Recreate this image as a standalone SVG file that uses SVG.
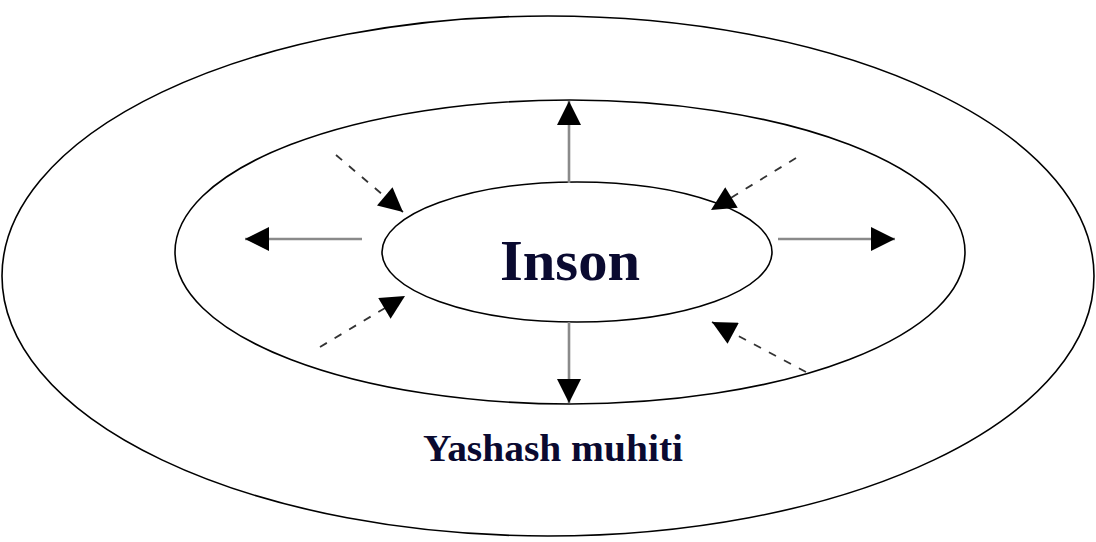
<svg xmlns="http://www.w3.org/2000/svg" width="1096" height="542" viewBox="0 0 1096 542">
  <style>
    .ring { fill: none; stroke: #000; stroke-width: 1.6; }
    .solid { stroke: #8a8a8a; stroke-width: 2.6; fill: none; }
    .dash { stroke: #333; stroke-width: 1.8; stroke-dasharray: 8 9; fill: none; }
    .label { font-family: "Liberation Serif", "Times New Roman", serif; font-weight: bold; fill: #0a0a30; text-anchor: middle; }
  </style>
  <defs>
    <marker id="head" viewBox="0 0 10 10" refX="10" refY="5" markerWidth="10" markerHeight="10" markerUnits="userSpaceOnUse" orient="auto">
      <path d="M0,0 L10,5 L0,10 Z" fill="#000"/>
    </marker>
    <marker id="bighead" viewBox="0 0 10 10" refX="10" refY="5" markerWidth="25" markerHeight="24" markerUnits="userSpaceOnUse" orient="auto">
      <path d="M0,0 L10,5 L0,10 Z" fill="#000"/>
    </marker>
  </defs>
  <rect width="1096" height="542" fill="#fff"/>

  <!-- outer ring -->
  <g id="environment-outer">
    <ellipse class="ring" cx="548" cy="276" rx="546" ry="260"/>
  </g>

  <!-- living environment ring -->
  <g id="environment">
    <ellipse class="ring" cx="570" cy="252" rx="395" ry="152"/>
    <text class="label" x="553" y="461" font-size="38" textLength="260" lengthAdjust="spacingAndGlyphs">Yashash muhiti</text>
  </g>

  <!-- person at the centre -->
  <g id="person">
    <ellipse class="ring" cx="577" cy="252" rx="195" ry="70"/>
    <text class="label" x="570" y="280" font-size="57" textLength="140" lengthAdjust="spacingAndGlyphs">Inson</text>
  </g>

  <!-- influences: outward solid, inward dashed -->
  <g id="connectors">
    <line class="solid" x1="569" y1="183" x2="569" y2="101" marker-end="url(#bighead)"/>
    <line class="solid" x1="569" y1="322" x2="569" y2="403" marker-end="url(#bighead)"/>
    <line class="solid" x1="362" y1="239" x2="245" y2="239" marker-end="url(#bighead)"/>
    <line class="solid" x1="778" y1="239" x2="895" y2="239" marker-end="url(#bighead)"/>

    <line class="dash" x1="336" y1="155" x2="403" y2="212" marker-end="url(#bighead)"/>
    <line class="dash" x1="796" y1="158" x2="711" y2="210" marker-end="url(#bighead)"/>
    <line class="dash" x1="320" y1="347" x2="405" y2="296" marker-end="url(#bighead)"/>
    <line class="dash" x1="806" y1="372" x2="712" y2="322" marker-end="url(#bighead)"/>
  </g>
</svg>
